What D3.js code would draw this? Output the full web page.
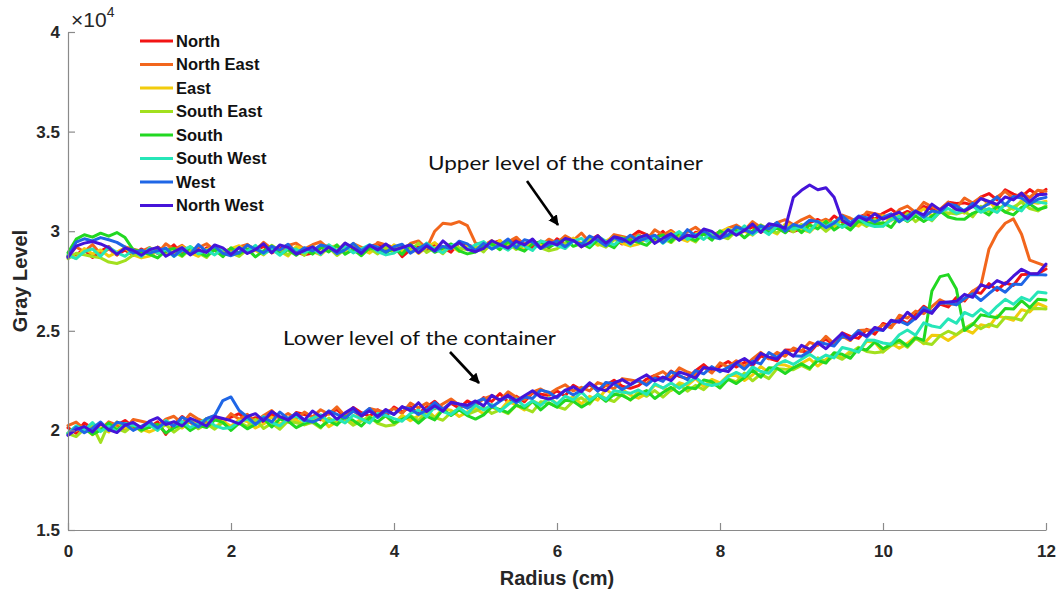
<!DOCTYPE html>
<html>
<head>
<meta charset="utf-8">
<script src="https://cdn.jsdelivr.net/npm/d3@7"></script>
<style>
  body { margin: 0; background: #fff; }
  svg { display: block; }
</style>
</head>
<body>
<svg id="chart" width="1061" height="594"></svg>
<script>
// Gray level profiles (×10^4) along the radius, sampled every 0.1 cm from 0 to 12 cm.
const radiusStart = 0;
const radiusStep = 0.1;

const directions = ["North", "North East", "East", "South East", "South", "South West", "West", "North West"];
const directionColors = ["#f21414", "#f2661c", "#f2cc0c", "#a2e01e", "#22d822", "#26e6b8", "#1f66e6", "#4514d9"];

const xTickValues = [0, 2, 4, 6, 8, 10, 12];
const yTickValues = [1.5, 2, 2.5, 3, 3.5, 4];
const yTickLabels = ["1.5", "2", "2.5", "3", "3.5", "4"];

// ---- upper level of the container ----
const upperNorth = [
  2.872,2.883,2.907,2.868,2.899,2.923,2.882,2.906,2.878,2.911,
  2.885,2.920,2.896,2.931,2.884,2.908,2.877,2.917,2.906,2.894,
  2.913,2.883,2.932,2.903,2.924,2.891,2.912,2.932,2.897,2.881,
  2.890,2.916,2.929,2.899,2.939,2.906,2.889,2.923,2.935,2.905,
  2.927,2.872,2.907,2.921,2.898,2.936,2.917,2.895,2.942,2.931,
  2.919,2.902,2.939,2.952,2.916,2.962,2.936,2.917,2.950,2.916,
  2.962,2.934,2.959,2.921,2.953,2.978,2.938,2.963,2.936,2.970,
  3.000,2.983,2.961,2.999,2.954,2.981,2.952,2.995,2.986,2.977,
  2.998,2.972,3.024,2.999,3.023,2.994,3.018,3.042,3.010,2.998,
  3.013,3.043,3.059,3.033,3.076,3.047,3.033,3.071,3.086,3.060,
  3.090,3.111,3.080,3.099,3.081,3.124,3.110,3.093,3.145,3.139,
  3.142,3.130,3.171,3.189,3.157,3.208,3.186,3.172,3.209,3.180,
  3.210];
const upperNorthEast = [
  2.875,2.921,2.897,2.933,2.886,2.911,2.880,2.921,2.910,2.899,
  2.918,2.888,2.937,2.908,2.929,2.896,2.917,2.937,2.902,2.886,
  2.895,2.921,2.934,2.904,2.944,2.911,2.894,2.928,2.940,2.910,
  2.932,2.947,2.911,2.924,2.901,2.938,2.919,2.896,2.943,2.931,
  2.919,2.902,2.938,2.951,2.914,3.000,3.040,3.035,3.048,3.028,
  2.940,2.928,2.953,2.914,2.946,2.970,2.930,2.954,2.927,2.960,
  2.940,2.977,2.954,2.991,2.945,2.971,2.941,2.983,2.973,2.963,
  2.983,2.956,3.007,2.981,3.004,2.974,2.997,3.020,2.987,2.974,
  2.985,3.015,3.031,3.005,3.048,3.019,3.005,3.043,3.058,3.032,
  3.057,3.076,3.043,3.060,3.040,3.081,3.065,3.046,3.096,3.088,
  3.079,3.067,3.108,3.126,3.094,3.145,3.123,3.109,3.146,3.117,
  3.167,3.142,3.171,3.136,3.172,3.200,3.164,3.192,3.169,3.206,
  3.200];
const upperEast = [
  2.880,2.864,2.913,2.885,2.906,2.874,2.895,2.916,2.881,2.866,
  2.875,2.901,2.914,2.884,2.924,2.891,2.874,2.908,2.920,2.890,
  2.912,2.927,2.891,2.904,2.881,2.918,2.899,2.876,2.923,2.911,
  2.899,2.881,2.917,2.929,2.892,2.937,2.910,2.890,2.922,2.887,
  2.932,2.903,2.927,2.888,2.919,2.943,2.902,2.926,2.898,2.931,
  2.905,2.941,2.918,2.954,2.908,2.933,2.903,2.944,2.934,2.923,
  2.943,2.915,2.965,2.938,2.960,2.929,2.951,2.973,2.939,2.925,
  2.935,2.964,2.979,2.952,2.994,2.964,2.949,2.986,3.000,2.973,
  2.997,3.016,2.983,3.000,2.980,3.021,3.005,2.986,3.036,3.028,
  3.009,2.995,3.034,3.050,3.016,3.065,3.041,3.025,3.060,3.029,
  3.077,3.053,3.082,3.048,3.084,3.113,3.077,3.106,3.083,3.121,
  3.090,3.130,3.110,3.150,3.107,3.136,3.109,3.154,3.147,3.140,
  3.150];
const upperSouthEast = [
  2.862,2.889,2.882,2.873,2.866,2.845,2.838,2.852,2.880,2.882,
  2.904,2.919,2.883,2.896,2.873,2.910,2.891,2.868,2.915,2.903,
  2.891,2.873,2.909,2.921,2.884,2.929,2.902,2.882,2.914,2.879,
  2.924,2.894,2.918,2.878,2.909,2.932,2.891,2.914,2.886,2.918,
  2.892,2.928,2.904,2.940,2.893,2.918,2.887,2.928,2.917,2.906,
  2.925,2.896,2.946,2.918,2.940,2.908,2.930,2.951,2.917,2.902,
  2.912,2.940,2.954,2.926,2.967,2.936,2.920,2.956,2.969,2.941,
  2.964,2.982,2.948,2.964,2.943,2.983,2.966,2.946,2.995,2.986,
  2.976,2.962,3.001,3.017,2.983,3.032,3.008,2.992,3.027,2.996,
  3.034,3.008,3.035,2.999,3.033,3.060,3.022,3.049,3.024,3.060,
  3.027,3.068,3.049,3.090,3.048,3.078,3.052,3.098,3.092,3.086,
  3.098,3.072,3.125,3.100,3.125,3.096,3.121,3.145,3.114,3.102,
  3.128];
const upperSouth = [
  2.892,2.960,2.982,2.970,2.990,2.975,2.993,2.968,2.907,2.896,
  2.884,2.866,2.902,2.914,2.877,2.922,2.895,2.875,2.907,2.872,
  2.917,2.887,2.911,2.871,2.902,2.925,2.884,2.907,2.879,2.911,
  2.885,2.920,2.896,2.931,2.884,2.908,2.877,2.917,2.906,2.894,
  2.913,2.884,2.933,2.905,2.926,2.894,2.915,2.936,2.901,2.886,
  2.895,2.922,2.936,2.907,2.948,2.916,2.900,2.935,2.948,2.919,
  2.942,2.959,2.924,2.939,2.917,2.956,2.938,2.917,2.965,2.955,
  2.944,2.929,2.967,2.982,2.947,2.995,2.970,2.953,2.987,2.955,
  3.002,2.976,3.003,2.967,3.001,3.028,2.990,3.017,2.992,3.028,
  2.993,3.032,3.011,3.050,3.006,3.034,3.006,3.050,3.042,3.034,
  3.043,3.019,3.073,3.050,3.076,3.049,3.075,3.101,3.071,3.061,
  3.060,3.090,3.107,3.081,3.125,3.096,3.082,3.120,3.136,3.109,
  3.120];
const upperSouthWest = [
  2.879,2.862,2.898,2.911,2.874,2.920,2.893,2.874,2.906,2.872,
  2.915,2.889,2.909,2.873,2.904,2.923,2.886,2.905,2.881,2.913,
  2.887,2.918,2.898,2.929,2.886,2.910,2.879,2.915,2.908,2.892,
  2.913,2.883,2.932,2.903,2.924,2.891,2.912,2.932,2.897,2.881,
  2.890,2.917,2.930,2.901,2.941,2.909,2.892,2.927,2.939,2.910,
  2.932,2.948,2.913,2.927,2.905,2.943,2.925,2.903,2.951,2.940,
  2.929,2.913,2.950,2.964,2.928,2.975,2.949,2.931,2.964,2.931,
  2.977,2.950,2.976,2.939,2.972,2.998,2.959,2.985,2.959,2.994,
  2.970,3.009,2.988,3.027,2.983,3.011,2.983,3.027,3.019,3.011,
  3.023,2.997,3.049,3.024,3.048,3.019,3.043,3.067,3.035,3.023,
  3.025,3.057,3.075,3.051,3.096,3.069,3.057,3.097,3.114,3.090,
  3.107,3.127,3.095,3.113,3.094,3.136,3.120,3.102,3.153,3.146,
  3.140];
const upperWest = [
  2.872,2.945,2.962,2.951,2.968,2.957,2.944,2.920,2.890,2.905,
  2.890,2.902,2.915,2.875,2.908,2.884,2.933,2.898,2.924,2.889,
  2.877,2.893,2.930,2.910,2.891,2.924,2.905,2.934,2.887,2.917,
  2.901,2.931,2.921,2.887,2.906,2.939,2.901,2.931,2.920,2.894,
  2.922,2.935,2.890,2.914,2.935,2.899,2.924,2.912,2.950,2.936,
  2.903,2.939,2.910,2.931,2.961,2.917,2.957,2.946,2.913,2.932,
  2.952,2.922,2.953,2.932,2.976,2.955,2.927,2.969,2.948,2.980,
  2.950,2.965,2.980,2.943,2.978,2.957,3.008,2.976,3.004,2.972,
  2.962,2.982,3.022,3.006,2.990,3.027,3.011,3.044,3.000,3.034,
  3.021,3.055,3.048,3.018,3.040,3.077,3.042,3.076,3.068,3.046,
  3.069,3.087,3.047,3.076,3.102,3.071,3.101,3.094,3.137,3.128,
  3.100,3.140,3.114,3.139,3.172,3.131,3.174,3.167,3.137,3.160,
  3.170];
const upperNorthWest = [
  2.868,2.925,2.940,2.948,2.936,2.918,2.884,2.915,2.904,2.879,
  2.907,2.919,2.874,2.897,2.918,2.881,2.906,2.893,2.931,2.916,
  2.883,2.918,2.888,2.908,2.937,2.892,2.931,2.919,2.885,2.903,
  2.922,2.890,2.920,2.897,2.940,2.917,2.888,2.928,2.906,2.936,
  2.905,2.918,2.931,2.892,2.925,2.902,2.951,2.917,2.943,2.909,
  2.897,2.914,2.952,2.933,2.915,2.949,2.931,2.961,2.915,2.946,
  2.931,2.963,2.954,2.922,2.942,2.977,2.940,2.972,2.962,2.938,
  2.967,2.982,2.939,2.965,2.988,2.954,2.981,2.971,3.011,2.999,
  2.968,3.007,2.980,3.004,3.036,2.995,3.037,3.029,3.015,3.170,
  3.205,3.232,3.208,3.218,3.170,3.055,3.029,3.073,3.054,3.088,
  3.060,3.078,3.096,3.062,3.100,3.082,3.136,3.107,3.138,3.109,
  3.102,3.123,3.164,3.149,3.134,3.172,3.157,3.191,3.148,3.183,
  3.185];

// ---- lower level of the container ----
const lowerNorth = [
  2.013,1.986,2.037,2.011,2.034,2.004,2.027,2.050,2.017,2.004,
  2.015,2.043,1.980,2.029,2.070,2.039,2.023,2.059,2.072,2.044,
  2.067,2.084,2.049,2.064,2.042,2.081,2.063,2.042,2.090,2.080,
  2.069,2.053,2.090,2.104,2.068,2.115,2.089,2.071,2.104,2.071,
  2.117,2.092,2.119,2.084,2.118,2.146,2.108,2.136,2.111,2.148,
  2.125,2.165,2.145,2.185,2.142,2.171,2.144,2.189,2.182,2.175,
  2.198,2.173,2.227,2.203,2.229,2.201,2.227,2.252,2.222,2.211,
  2.225,2.258,2.276,2.253,2.298,2.271,2.260,2.300,2.330,2.294,
  2.322,2.346,2.318,2.341,2.326,2.373,2.362,2.349,2.404,2.402,
  2.399,2.391,2.436,2.458,2.430,2.490,2.472,2.462,2.508,2.483,
  2.537,2.522,2.560,2.535,2.580,2.623,2.596,2.634,2.620,2.667,
  2.650,2.699,2.688,2.737,2.703,2.741,2.728,2.782,2.784,2.786,
  2.810];
const lowerNorthEast = [
  2.024,2.042,2.008,2.024,2.003,2.043,2.026,2.006,2.055,2.046,
  2.036,2.020,2.057,2.071,2.035,2.082,2.056,2.038,2.071,2.038,
  2.084,2.056,2.081,2.043,2.075,2.100,2.060,2.085,2.058,2.092,
  2.067,2.104,2.081,2.118,2.072,2.098,2.068,2.110,2.100,2.090,
  2.110,2.085,2.137,2.113,2.137,2.109,2.133,2.158,2.126,2.115,
  2.127,2.158,2.175,2.150,2.194,2.166,2.153,2.192,2.208,2.183,
  2.209,2.229,2.198,2.216,2.198,2.240,2.226,2.208,2.260,2.253,
  2.246,2.235,2.276,2.295,2.263,2.314,2.293,2.279,2.317,2.288,
  2.339,2.318,2.350,2.320,2.359,2.392,2.359,2.392,2.372,2.414,
  2.397,2.442,2.427,2.472,2.434,2.473,2.451,2.501,2.504,2.502,
  2.530,2.515,2.578,2.564,2.599,2.586,2.621,2.656,2.635,2.634,
  2.657,2.698,2.725,2.910,2.990,3.040,3.062,2.985,2.855,2.840,
  2.825];
const lowerEast = [
  1.985,2.000,2.015,1.978,2.013,1.992,2.043,2.011,2.039,2.007,
  1.992,2.010,2.048,2.030,2.012,2.047,2.029,2.060,2.014,2.046,
  2.021,2.053,2.044,2.012,2.032,2.067,2.030,2.062,2.052,2.028,
  2.049,2.063,2.019,2.044,2.066,2.031,2.057,2.046,2.085,2.072,
  2.036,2.076,2.049,2.074,2.106,2.066,2.108,2.101,2.070,2.093,
  2.110,2.083,2.117,2.099,2.146,2.128,2.103,2.148,2.130,2.165,
  2.133,2.150,2.168,2.133,2.171,2.152,2.206,2.176,2.207,2.177,
  2.162,2.185,2.227,2.214,2.200,2.239,2.226,2.261,2.220,2.256,
  2.238,2.277,2.275,2.251,2.278,2.321,2.291,2.331,2.328,2.312,
  2.337,2.359,2.323,2.356,2.386,2.364,2.398,2.395,2.447,2.442,
  2.393,2.438,2.412,2.437,2.470,2.435,2.478,2.476,2.451,2.479,
  2.507,2.488,2.530,2.520,2.575,2.565,2.553,2.606,2.594,2.637,
  2.620];
const lowerSouthEast = [
  1.984,1.969,2.007,2.022,1.940,2.035,2.010,1.993,2.027,1.995,
  2.032,2.004,2.029,1.991,2.023,2.048,2.008,2.033,2.006,2.040,
  2.005,2.042,2.019,2.056,2.010,2.036,2.006,2.048,2.038,2.028,
  2.040,2.012,2.062,2.035,2.057,2.026,2.048,2.070,2.036,2.022,
  2.028,2.059,2.075,2.050,2.093,2.065,2.051,2.090,2.105,2.080,
  2.097,2.117,2.085,2.103,2.084,2.126,2.111,2.093,2.144,2.137,
  2.119,2.106,2.147,2.164,2.132,2.182,2.160,2.145,2.182,2.152,
  2.194,2.171,2.200,2.167,2.203,2.232,2.197,2.226,2.204,2.242,
  2.215,2.259,2.243,2.288,2.249,2.283,2.260,2.310,2.307,2.305,
  2.326,2.306,2.364,2.345,2.375,2.357,2.387,2.417,2.396,2.390,
  2.395,2.426,2.443,2.418,2.462,2.439,2.431,2.475,2.498,2.481,
  2.512,2.537,2.510,2.533,2.520,2.568,2.564,2.553,2.611,2.612,
  2.610];
const lowerSouth = [
  1.986,2.019,2.011,1.980,2.001,2.037,2.001,2.034,2.025,2.002,
  2.017,2.031,1.987,2.012,2.034,1.999,2.025,2.014,2.053,2.040,
  2.000,2.037,2.008,2.030,2.060,2.017,2.057,2.047,2.014,2.034,
  2.047,2.017,2.048,2.027,2.071,2.050,2.022,2.064,2.043,2.075,
  2.038,2.055,2.071,2.036,2.072,2.053,2.105,2.075,2.104,2.074,
  2.057,2.078,2.119,2.104,2.089,2.127,2.112,2.146,2.103,2.138,
  2.116,2.151,2.146,2.117,2.141,2.179,2.146,2.181,2.175,2.154,
  2.181,2.200,2.160,2.190,2.216,2.185,2.216,2.209,2.253,2.244,
  2.213,2.257,2.235,2.265,2.302,2.267,2.314,2.312,2.286,2.314,
  2.334,2.312,2.351,2.338,2.390,2.382,2.362,2.412,2.404,2.444,
  2.410,2.432,2.454,2.424,2.466,2.452,2.700,2.772,2.782,2.710,
  2.502,2.531,2.580,2.573,2.566,2.612,2.609,2.651,2.616,2.658,
  2.655];
const lowerSouthWest = [
  1.985,2.023,2.001,2.039,1.994,2.021,1.992,2.035,2.026,2.017,
  2.028,2.000,2.050,2.023,2.045,2.014,2.036,2.058,2.024,2.010,
  2.015,2.043,2.057,2.029,2.070,2.039,2.023,2.059,2.072,2.044,
  2.062,2.079,2.044,2.059,2.037,2.076,2.058,2.037,2.085,2.075,
  2.059,2.046,2.085,2.102,2.068,2.118,2.094,2.079,2.114,2.084,
  2.127,2.102,2.130,2.095,2.130,2.158,2.121,2.149,2.125,2.162,
  2.132,2.172,2.153,2.193,2.151,2.180,2.154,2.199,2.193,2.186,
  2.203,2.180,2.234,2.212,2.238,2.211,2.238,2.264,2.235,2.225,
  2.235,2.270,2.291,2.271,2.319,2.296,2.287,2.331,2.351,2.331,
  2.357,2.382,2.355,2.378,2.364,2.416,2.406,2.393,2.454,2.452,
  2.439,2.433,2.480,2.504,2.478,2.540,2.524,2.516,2.560,2.538,
  2.592,2.574,2.609,2.581,2.623,2.658,2.633,2.668,2.651,2.695,
  2.690];
const lowerWest = [
  1.978,2.016,1.988,2.011,2.042,2.000,2.041,2.032,2.000,2.021,
  2.042,2.012,2.043,2.022,2.066,2.045,2.017,2.059,2.075,2.150,
  2.168,2.100,2.068,2.030,2.064,2.042,2.092,2.059,2.086,2.053,
  2.042,2.060,2.098,2.080,2.062,2.097,2.079,2.110,2.064,2.096,
  2.081,2.116,2.109,2.080,2.102,2.140,2.105,2.140,2.132,2.111,
  2.142,2.159,2.118,2.146,2.171,2.139,2.168,2.160,2.202,2.192,
  2.163,2.203,2.178,2.203,2.237,2.197,2.241,2.234,2.205,2.228,
  2.252,2.227,2.262,2.246,2.294,2.277,2.254,2.300,2.284,2.320,
  2.295,2.316,2.337,2.307,2.348,2.334,2.391,2.366,2.400,2.375,
  2.372,2.398,2.444,2.434,2.424,2.472,2.462,2.501,2.468,2.508,
  2.501,2.546,2.550,2.531,2.564,2.617,2.593,2.638,2.641,2.630,
  2.662,2.686,2.652,2.687,2.719,2.694,2.734,2.733,2.782,2.782,
  2.780];
const lowerNorthWest = [
  1.975,2.004,2.019,1.992,2.034,2.004,1.989,2.026,2.040,2.013,
  2.047,2.064,2.029,2.044,2.022,2.061,2.043,2.022,2.070,2.060,
  2.049,2.033,2.070,2.084,2.048,2.095,2.069,2.051,2.084,2.051,
  2.097,2.069,2.094,2.056,2.088,2.113,2.073,2.098,2.071,2.105,
  2.080,2.120,2.099,2.139,2.095,2.124,2.096,2.141,2.133,2.126,
  2.148,2.123,2.176,2.152,2.177,2.149,2.174,2.199,2.168,2.157,
  2.170,2.201,2.219,2.194,2.239,2.211,2.199,2.238,2.255,2.230,
  2.257,2.279,2.248,2.268,2.250,2.293,2.280,2.263,2.316,2.310,
  2.304,2.295,2.339,2.361,2.332,2.387,2.368,2.358,2.398,2.373,
  2.427,2.407,2.440,2.410,2.450,2.488,2.456,2.489,2.475,2.517,
  2.503,2.553,2.543,2.593,2.560,2.604,2.587,2.642,2.645,2.648,
  2.683,2.668,2.731,2.717,2.752,2.734,2.774,2.809,2.788,2.787,
  2.835];

const upperProfiles = [upperNorth, upperNorthEast, upperEast, upperSouthEast, upperSouth, upperSouthWest, upperWest, upperNorthWest];
const lowerProfiles = [lowerNorth, lowerNorthEast, lowerEast, lowerSouthEast, lowerSouth, lowerSouthWest, lowerWest, lowerNorthWest];

// ---- layout ----
const svg = d3.select("#chart");
const frame = { left: 68, right: 1046, top: 32, bottom: 530 };
const x = d3.scaleLinear().domain([0, 12]).range([frame.left, frame.right]);
const y = d3.scaleLinear().domain([1.5, 4]).range([frame.bottom, frame.top]);
const axisColor = "#8a8a8a";
const tickFont = "'Liberation Sans', Arial, sans-serif";

// ---- profile lines ----
const line = d3.line()
  .x((d, i) => x(radiusStart + i * radiusStep))
  .y(d => y(d));

const plot = svg.append("g").attr("class", "profiles");
directions.forEach((dir, k) => {
  [upperProfiles[k], lowerProfiles[k]].forEach(values => {
    plot.append("path")
      .datum(values)
      .attr("d", line)
      .attr("fill", "none")
      .attr("stroke", directionColors[k])
      .attr("stroke-width", 3)
      .attr("stroke-linejoin", "round")
      .attr("stroke-linecap", "round");
  });
});

// ---- axes ----
const xAxis = d3.axisBottom(x)
  .tickValues(xTickValues)
  .tickSizeInner(-7)
  .tickSizeOuter(0)
  .tickPadding(15)
  .tickFormat(d3.format("d"));
const gx = svg.append("g").attr("transform", `translate(0,${frame.bottom})`).call(xAxis);

const yAxis = d3.axisLeft(y)
  .tickValues(yTickValues)
  .tickSizeInner(-7)
  .tickSizeOuter(0)
  .tickPadding(8)
  .tickFormat((d, i) => yTickLabels[i]);
const gy = svg.append("g").attr("transform", `translate(${frame.left},0)`).call(yAxis);

[gx, gy].forEach(g => {
  g.select(".domain").attr("stroke", axisColor).attr("stroke-width", 1.2);
  g.selectAll(".tick line").attr("stroke", axisColor).attr("stroke-width", 1.2);
  g.selectAll(".tick text")
    .attr("fill", "#262626")
    .style("font-family", tickFont)
    .style("font-weight", "bold")
    .style("font-size", "17px");
});

// exponent marker
const expo = svg.append("text")
  .attr("x", 71).attr("y", 27)
  .attr("fill", "#262626")
  .style("font-family", tickFont)
  .style("font-size", "21px");
expo.append("tspan").text("×10");
expo.append("tspan").attr("dy", -10).style("font-size", "14px").text("4");

// axis titles
svg.append("text")
  .attr("x", x(6)).attr("y", 585)
  .attr("text-anchor", "middle")
  .attr("fill", "#262626")
  .style("font-family", tickFont)
  .style("font-weight", "bold")
  .style("font-size", "20px")
  .text("Radius (cm)");

svg.append("text")
  .attr("transform", "translate(27,281) rotate(-90)")
  .attr("text-anchor", "middle")
  .attr("fill", "#262626")
  .style("font-family", tickFont)
  .style("font-weight", "bold")
  .style("font-size", "20px")
  .text("Gray Level");

// ---- legend ----
const legend = svg.append("g").attr("transform", "translate(140,41)");
directions.forEach((dir, k) => {
  const row = legend.append("g").attr("transform", `translate(0,${k * 23.5})`);
  row.append("line")
    .attr("x1", 0).attr("x2", 33)
    .attr("stroke", directionColors[k])
    .attr("stroke-width", 3);
  row.append("text")
    .attr("x", 36).attr("dy", "0.36em")
    .attr("fill", "#111")
    .style("font-family", tickFont)
    .style("font-weight", "bold")
    .style("font-size", "16.5px")
    .text(dir);
});

// ---- annotations ----
svg.append("defs").append("marker")
  .attr("id", "arrowHead")
  .attr("viewBox", "0 0 10 10")
  .attr("refX", 9).attr("refY", 5)
  .attr("markerWidth", 4).attr("markerHeight", 4)
  .attr("orient", "auto")
  .append("path")
  .attr("d", "M0,0 L10,5 L0,10 Z")
  .attr("fill", "#000");

const notes = [
  { text: "Upper level of the container", tx: 428, ty: 170, width: 275, from: [527, 181], to: [558, 225] },
  { text: "Lower level of the container", tx: 283, ty: 345, width: 273, from: [450, 352], to: [479, 383] }
];
notes.forEach(n => {
  svg.append("text")
    .attr("x", n.tx).attr("y", n.ty)
    .attr("fill", "#111")
    .attr("textLength", n.width)
    .attr("lengthAdjust", "spacingAndGlyphs")
    .style("font-family", "Lato, 'Open Sans', sans-serif")
    .style("font-size", "20px")
    .text(n.text);
  svg.append("line")
    .attr("x1", n.from[0]).attr("y1", n.from[1])
    .attr("x2", n.to[0]).attr("y2", n.to[1])
    .attr("stroke", "#000")
    .attr("stroke-width", 2.6)
    .attr("marker-end", "url(#arrowHead)");
});
</script>
</body>
</html>
